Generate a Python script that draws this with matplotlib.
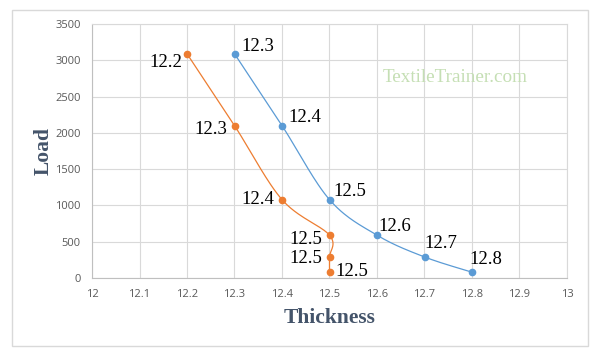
import numpy as np
import matplotlib.pyplot as plt
from matplotlib.patches import Rectangle

# data
blue_x = [12.3, 12.4, 12.5, 12.6, 12.7, 12.8]
blue_y = [3090, 2100, 1080, 590, 290, 80]
orange_x = [12.2, 12.3, 12.4, 12.5, 12.5, 12.5]
orange_y = [3090, 2100, 1080, 590, 290, 80]

# label offsets in pixels (dx, dy, ha)
blue_offsets = [(7, 7, "left"), (6, 8, "left"), (4, 8, "left"),
                (1, 9, "left"), (0, 13, "left"), (-3, 13, "left")]
orange_offsets = [(-5, -9, "right"), (-7, -4, "right"), (-8, 0, "right"),
                  (-7, -4, "right"), (-7, -2, "right"), (6, 1, "left")]

BLUE = "#5B9BD5"
ORANGE = "#ED7D31"
GRID = "#d9d9d9"
TITLE_C = "#44546A"


def smooth(xs, ys, n=30):
    """Excel-like smoothed line (Catmull-Rom via cubic Bezier)."""
    p = np.column_stack([xs, ys]).astype(float)
    # scale so x and y count equally, like on screen
    sx, sy = 475.0, 254.0 / 3500.0
    p[:, 0] *= sx
    p[:, 1] *= sy
    pts = np.vstack([p[0], p, p[-1]])
    out = []
    t = np.linspace(0, 1, n)[:, None]
    for i in range(1, len(pts) - 2):
        p0, p1, p2, p3 = pts[i - 1], pts[i], pts[i + 1], pts[i + 2]
        c1 = p1 + (p2 - p0) / 6.0
        c2 = p2 - (p3 - p1) / 6.0
        seg = ((1 - t) ** 3) * p1 + 3 * ((1 - t) ** 2) * t * c1 \
            + 3 * (1 - t) * t ** 2 * c2 + t ** 3 * p2
        out.append(seg)
    out = np.vstack(out)
    return out[:, 0] / sx, out[:, 1] / sy


fig = plt.figure(figsize=(6.03, 3.56), dpi=100)
fig.patches.append(Rectangle((12 / 603, 1 - 346 / 356), 576 / 603, 336 / 356,
                             transform=fig.transFigure, fill=False,
                             edgecolor=GRID, linewidth=1))
ax = fig.add_axes([92 / 603, 1 - 278 / 356, 475 / 603, 254 / 356])

for xs, ys, col, offs in [(orange_x, orange_y, ORANGE, orange_offsets),
                          (blue_x, blue_y, BLUE, blue_offsets)]:
    lx, ly = smooth(xs, ys)
    ax.plot(lx, ly, color=col, linewidth=0.9, zorder=3)
    ax.plot(xs, ys, "o", color=col, markersize=4.5, zorder=4)
    for x, y, (dx, dy, ha) in zip(xs, ys, offs):
        ax.annotate(f"{x:.1f}", (x, y), xytext=(dx, dy), textcoords="offset pixels",
                    ha=ha, va="center", fontsize=13.5, family="Liberation Serif",
                    color="black", zorder=5)

ax.set_xlim(12, 13)
ax.set_ylim(0, 3500)
ax.set_xticks(np.arange(12, 13.01, 0.1))
ax.set_xticklabels(["12", "12.1", "12.2", "12.3", "12.4", "12.5", "12.6",
                    "12.7", "12.8", "12.9", "13"])
ax.set_yticks(np.arange(0, 3501, 500))
ax.grid(True, color=GRID, linewidth=0.8, zorder=0)
ax.tick_params(length=0, labelsize=8, labelcolor="#595959", pad=8)
for lab in ax.get_xticklabels() + ax.get_yticklabels():
    lab.set_family("Open Sans")
for s in ["top", "right"]:
    ax.spines[s].set_color(GRID)
for s in ["left", "bottom"]:
    ax.spines[s].set_color("#bfbfbf")

ax.set_xlabel("Thickness", fontsize=15.5, fontweight="bold", family="Liberation Serif",
              color=TITLE_C, labelpad=6)
ax.set_ylabel("Load", fontsize=15.5, fontweight="bold", family="Liberation Serif",
              color=TITLE_C, labelpad=1)

ax.text(0.765, 0.79, "TextileTrainer.com", transform=ax.transAxes, ha="center",
        va="center", fontsize=13.8, family="Liberation Serif", color="#c5dfb4")

fig.savefig("out.png", dpi=100)
